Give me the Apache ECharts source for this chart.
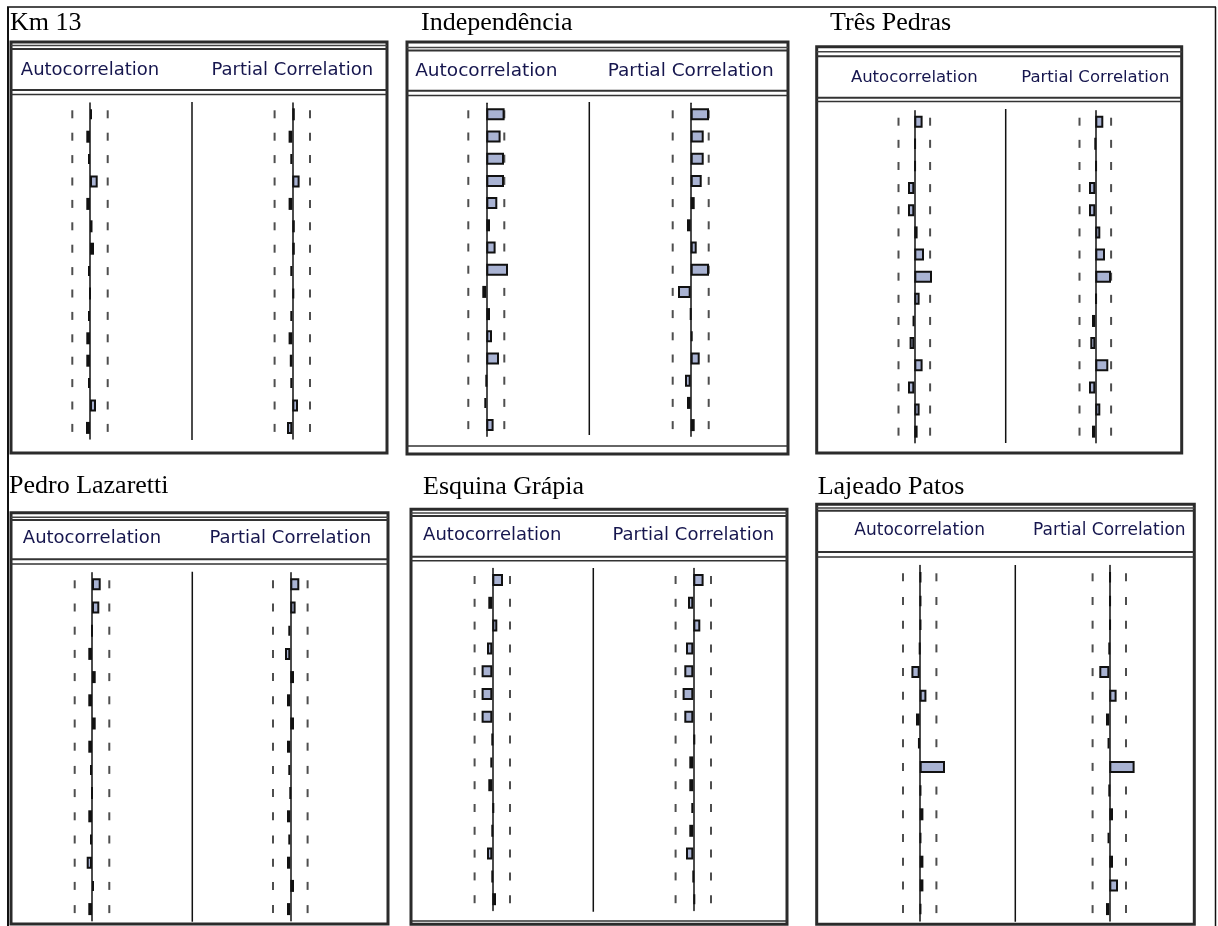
<!DOCTYPE html>
<html>
<head>
<meta charset="utf-8">
<script src="https://cdn.jsdelivr.net/npm/echarts@6/dist/echarts.min.js"></script>
<style>
html, body { margin: 0; padding: 0; background: #fff; }
#chart { width: 1218px; height: 926px; }
</style>
</head>
<body>
<div id="chart"></div>
<script>
// lags shown in each correlogram
var lags = ['1','2','3','4','5','6','7','8','9','10','11','12','13','14','15'];

var stations = ['Km 13', 'Independência', 'Três Pedras', 'Pedro Lazaretti', 'Esquina Grápia', 'Lajeado Patos'];

var km13Acf  = [0.02, -0.037, -0.02, 0.077, -0.037, 0.025, 0.04, -0.02, 0.0, -0.02, -0.037, -0.037, -0.02, 0.06, -0.04];
var km13Pacf = [0.025, -0.037, -0.02, 0.073, -0.037, 0.025, 0.025, -0.02, 0.02, -0.02, -0.037, -0.025, -0.02, 0.057, -0.053];

var indepAcf  = [0.183, 0.143, 0.177, 0.177, 0.11, 0.037, 0.093, 0.217, -0.04, 0.037, 0.057, 0.127, 0.0, -0.02, 0.073];
var indepPacf = [0.183, 0.13, 0.13, 0.11, 0.04, -0.037, 0.06, 0.183, -0.127, 0.0, 0.02, 0.09, -0.057, -0.037, 0.04];

var tresAcf  = [0.083, 0.015, 0.015, -0.063, -0.063, 0.033, 0.097, 0.177, 0.053, -0.015, -0.047, 0.083, -0.063, 0.053, 0.033];
var tresPacf = [0.08, 0.0, 0.015, -0.063, -0.063, 0.05, 0.097, 0.157, 0.015, -0.033, -0.05, 0.13, -0.063, 0.05, -0.033];

var pedroAcf  = [0.087, 0.073, 0.0, -0.037, 0.037, -0.037, 0.037, -0.037, -0.02, 0.0, -0.037, -0.02, -0.053, 0.02, -0.037];
var pedroPacf = [0.09, 0.053, -0.02, -0.053, 0.037, -0.033, 0.037, -0.033, -0.02, 0.0, -0.033, -0.02, -0.033, 0.037, -0.033];

var esquinaAcf  = [0.107, -0.04, 0.05, -0.053, -0.107, -0.107, -0.107, 0.0, -0.02, -0.04, 0.02, 0.0, -0.053, 0.0, 0.037];
var esquinaPacf = [0.103, -0.053, 0.07, -0.073, -0.09, -0.107, -0.09, 0.02, -0.04, -0.04, -0.02, -0.04, -0.073, 0.0, 0.02];

var lajeadoAcf  = [0.015, 0.015, 0.015, 0.0, -0.083, 0.067, -0.037, -0.015, 0.253, 0.015, 0.037, 0.015, 0.037, 0.037, 0.015];
var lajeadoPacf = [0.015, 0.015, 0.015, 0.0, -0.1, 0.073, -0.033, -0.015, 0.253, 0.0, 0.037, -0.015, 0.037, 0.087, -0.033];

// 95% bounds (dashed lines) per station
var bounds = [0.177, 0.18, 0.158, 0.173, 0.177, 0.167];

var acfSets  = [km13Acf, indepAcf, tresAcf, pedroAcf, esquinaAcf, lajeadoAcf];
var pacfSets = [km13Pacf, indepPacf, tresPacf, pedroPacf, esquinaPacf, lajeadoPacf];

// where each panel sits on the page
var panels = [
    {titleX: 10,  titleY: 32,  box: [11, 42, 376, 411],    topLines: [45.5, 49],   labelY: 70,  lowLines: [90, 94.5],   sep: [192, 102, 440],     zero: [90, 292.3],    first: 114.3, step: 22.4,  labelSize: 18,   bottomLine: null},
    {titleX: 421, titleY: 32,  box: [407, 42, 381, 412],   topLines: [47.5, 50.5], labelY: 71,  lowLines: [90.7, 95.5], sep: [589.3, 102, 435],   zero: [486.3, 690.7], first: 114.3, step: 22.2,  labelSize: 18.5, bottomLine: 446},
    {titleX: 830, titleY: 32,  box: [816.7, 46.7, 365, 406.3], topLines: [51.7, 56.2], labelY: 77.3, lowLines: [97.7, 101.5], sep: [1005.7, 109, 443], zero: [914.3, 1095.3], first: 121.7, step: 22.14, labelSize: 16.5, bottomLine: null},
    {titleX: 9,   titleY: 495, box: [11, 512.7, 377, 411.3], topLines: [517.3, 520], labelY: 538.3, lowLines: [559.3, 564], sep: [192.3, 571.7, 921.7], zero: [92, 290.3], first: 584.3, step: 23.2, labelSize: 18, bottomLine: null},
    {titleX: 423, titleY: 496, box: [411, 509.3, 376, 415], topLines: [513, 516],  labelY: 535, lowLines: [556.7, 560.7], sep: [593.3, 568, 911.7], zero: [492.3, 693.3], first: 580, step: 22.8, labelSize: 18, bottomLine: 921},
    {titleX: 817.7, titleY: 496, box: [816.7, 504.3, 377.6, 420], topLines: [508, 510.7], labelY: 530.7, lowLines: [552, 557], sep: [1015.3, 565, 921.7], zero: [919.7, 1109.3], first: 577.3, step: 23.7, labelSize: 17, bottomLine: null}
];

var headers = ['Autocorrelation', 'Partial Correlation'];

function hline(x1, x2, y, w, c) {
    return {type: 'line', silent: true, shape: {x1: x1, y1: y, x2: x2, y2: y}, style: {stroke: c || '#333', lineWidth: w || 1.5}};
}
function vline(x, y1, y2, w, c) {
    return {type: 'line', silent: true, shape: {x1: x, y1: y1, x2: x, y2: y2}, style: {stroke: c || '#111', lineWidth: w || 1.5}};
}

var grids = [], xAxes = [], yAxes = [], series = [], graphics = [];

// outer frame of the figure
graphics.push(hline(7, 1216, 7, 1.5, '#111'));
graphics.push(vline(8, 7, 926, 2, '#111'));
graphics.push(vline(1215.5, 7, 926, 1.5, '#111'));

for (var p = 0; p < panels.length; p++) {
    var L = panels[p];
    var bx = L.box[0], by = L.box[1], bw = L.box[2], bh = L.box[3];

    graphics.push({
        type: 'text', silent: true,
        style: {text: stations[p], x: L.titleX, y: L.titleY - 9, fill: '#000',
                font: '26px "Liberation Serif"', verticalAlign: 'middle', textVerticalAlign: 'middle'}
    });
    graphics.push({
        type: 'rect', silent: true,
        shape: {x: bx, y: by, width: bw, height: bh},
        style: {fill: 'none', stroke: '#2b2b2b', lineWidth: 3}
    });
    graphics.push(hline(bx, bx + bw, L.topLines[0], 1.5, '#444'));
    graphics.push(hline(bx, bx + bw, L.topLines[1], 2, '#333'));
    graphics.push(hline(bx, bx + bw, L.lowLines[0], 2, '#333'));
    graphics.push(hline(bx, bx + bw, L.lowLines[1], 1.5, '#333'));
    if (L.bottomLine) {
        graphics.push(hline(bx, bx + bw, L.bottomLine, 1.5, '#333'));
    }
    graphics.push(vline(L.sep[0], L.sep[1], L.sep[2], 1.5, '#111'));

    var sets = [acfSets[p], pacfSets[p]];
    for (var c = 0; c < 2; c++) {
        var idx = p * 2 + c;
        var zx = L.zero[c];

        graphics.push({
            type: 'text', silent: true,
            style: {text: headers[c], x: zx, y: L.labelY, fill: '#16164e',
                    font: L.labelSize + 'px "DejaVu Sans"',
                    align: 'center', textAlign: 'center', verticalAlign: 'middle', textVerticalAlign: 'middle'}
        });

        grids.push({left: zx - 50, width: 100, top: L.first - L.step / 2, height: L.step * 15});
        xAxes.push({
            type: 'value', gridIndex: idx, min: -0.5, max: 0.5,
            axisLine: {show: false}, axisTick: {show: false}, axisLabel: {show: false}, splitLine: {show: false}
        });
        yAxes.push({
            type: 'category', gridIndex: idx, inverse: true, data: lags,
            axisLine: {show: true, onZero: true, lineStyle: {color: '#111', width: 1.5}},
            axisTick: {show: false}, axisLabel: {show: false}, splitLine: {show: false}
        });

        var dashes = [];
        for (var k = 0; k < lags.length; k++) {
            dashes.push([-bounds[p], lags[k]]);
            dashes.push([bounds[p], lags[k]]);
        }
        series.push({
            type: 'scatter', xAxisIndex: idx, yAxisIndex: idx, z: 1,
            data: dashes, symbol: 'rect', symbolSize: [2, 8],
            itemStyle: {color: '#222'}, silent: true
        });

        series.push({
            type: 'bar', xAxisIndex: idx, yAxisIndex: idx, z: 3,
            data: sets[c], barWidth: 12,
            itemStyle: {color: '#a9b3d3', borderColor: '#111', borderWidth: 2},
            silent: true
        });
    }
}

echarts.init(document.getElementById('chart')).setOption({
    animation: false,
    backgroundColor: '#fff',
    grid: grids,
    xAxis: xAxes,
    yAxis: yAxes,
    series: series,
    graphic: {elements: graphics}
});
</script>
</body>
</html>
